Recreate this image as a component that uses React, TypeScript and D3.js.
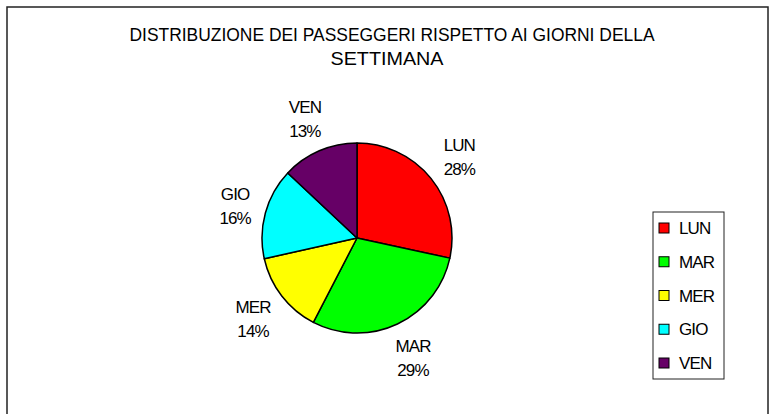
import React from "react";
import * as d3 from "d3";

const categories = ["LUN", "MAR", "MER", "GIO", "VEN"];
const values = [28.4, 29.2, 13.9, 15.5, 13.0];
const colors = ["#FF0000", "#00FF00", "#FFFF00", "#00FFFF", "#660066"];
const titleLines = ["DISTRIBUZIONE DEI PASSEGGERI RISPETTO AI GIORNI DELLA", "SETTIMANA"];

const W = 771;
const H = 414;
const FONT = "'Liberation Sans', Arial, sans-serif";

export default function App() {
  const cx = 357;
  const cy = 238;
  const r = 95;
  const total = d3.sum(values);
  const pie = d3.pie<number>().sort(null).value((d) => d)(values);
  const arc = d3.arc<d3.PieArcDatum<number>>().innerRadius(0).outerRadius(r);

  // label box half sizes, placed outside the pie edge
  const hw = 18;
  const hh = 23;
  const gap = 8;

  const legendY = d3.scalePoint<string>().domain(categories).range([228, 363]);

  return (
    <div style={{ position: "absolute", left: 0, top: 0 }}>
      <svg width={W} height={H} style={{ display: "block", background: "#fff" }} fontFamily={FONT}>
        <rect x={7} y={7} width={761} height={420} fill="#fff" stroke="#222" strokeWidth={1.5} />
        <text x={392} y={41} textAnchor="middle" fontSize={18} textLength={525} lengthAdjust="spacingAndGlyphs" fill="#000">
          {titleLines[0]}
        </text>
        <text x={387} y={65} textAnchor="middle" fontSize={18} textLength={113} lengthAdjust="spacingAndGlyphs" fill="#000">
          {titleLines[1]}
        </text>
        <g transform={`translate(${cx},${cy})`}>
          {pie.map((p, i) => (
            <path key={i} d={arc(p) || ""} fill={colors[i]} stroke="#000" strokeWidth={1.5} strokeLinejoin="round" />
          ))}
          {pie.map((p, i) => {
            const a = (p.startAngle + p.endAngle) / 2;
            const sx = Math.sin(a);
            const sy = -Math.cos(a);
            const d = r + gap + hw * Math.abs(sx) + hh * Math.abs(sy);
            const lx = sx * d;
            const ly = sy * d;
            return (
              <g key={"l" + i} fontSize={17} fill="#000" textAnchor="middle" letterSpacing={-0.9}>
                <text x={lx} y={ly - 5}>{categories[i]}</text>
                <text x={lx} y={ly + 19}>{Math.round((values[i] / total) * 100) + "%"}</text>
              </g>
            );
          })}
        </g>
        <rect x={653} y={212} width={71} height={167} fill="#fff" stroke="#222" strokeWidth={1} />
        {categories.map((c, i) => {
          const y = legendY(c) as number;
          return (
            <g key={c}>
              <rect x={659} y={y - 5} width={10} height={10} fill={colors[i]} stroke="#000" strokeWidth={1} />
              <text x={679} y={y + 6} fontSize={17} letterSpacing={-0.9} fill="#000">{c}</text>
            </g>
          );
        })}
      </svg>
    </div>
  );
}
